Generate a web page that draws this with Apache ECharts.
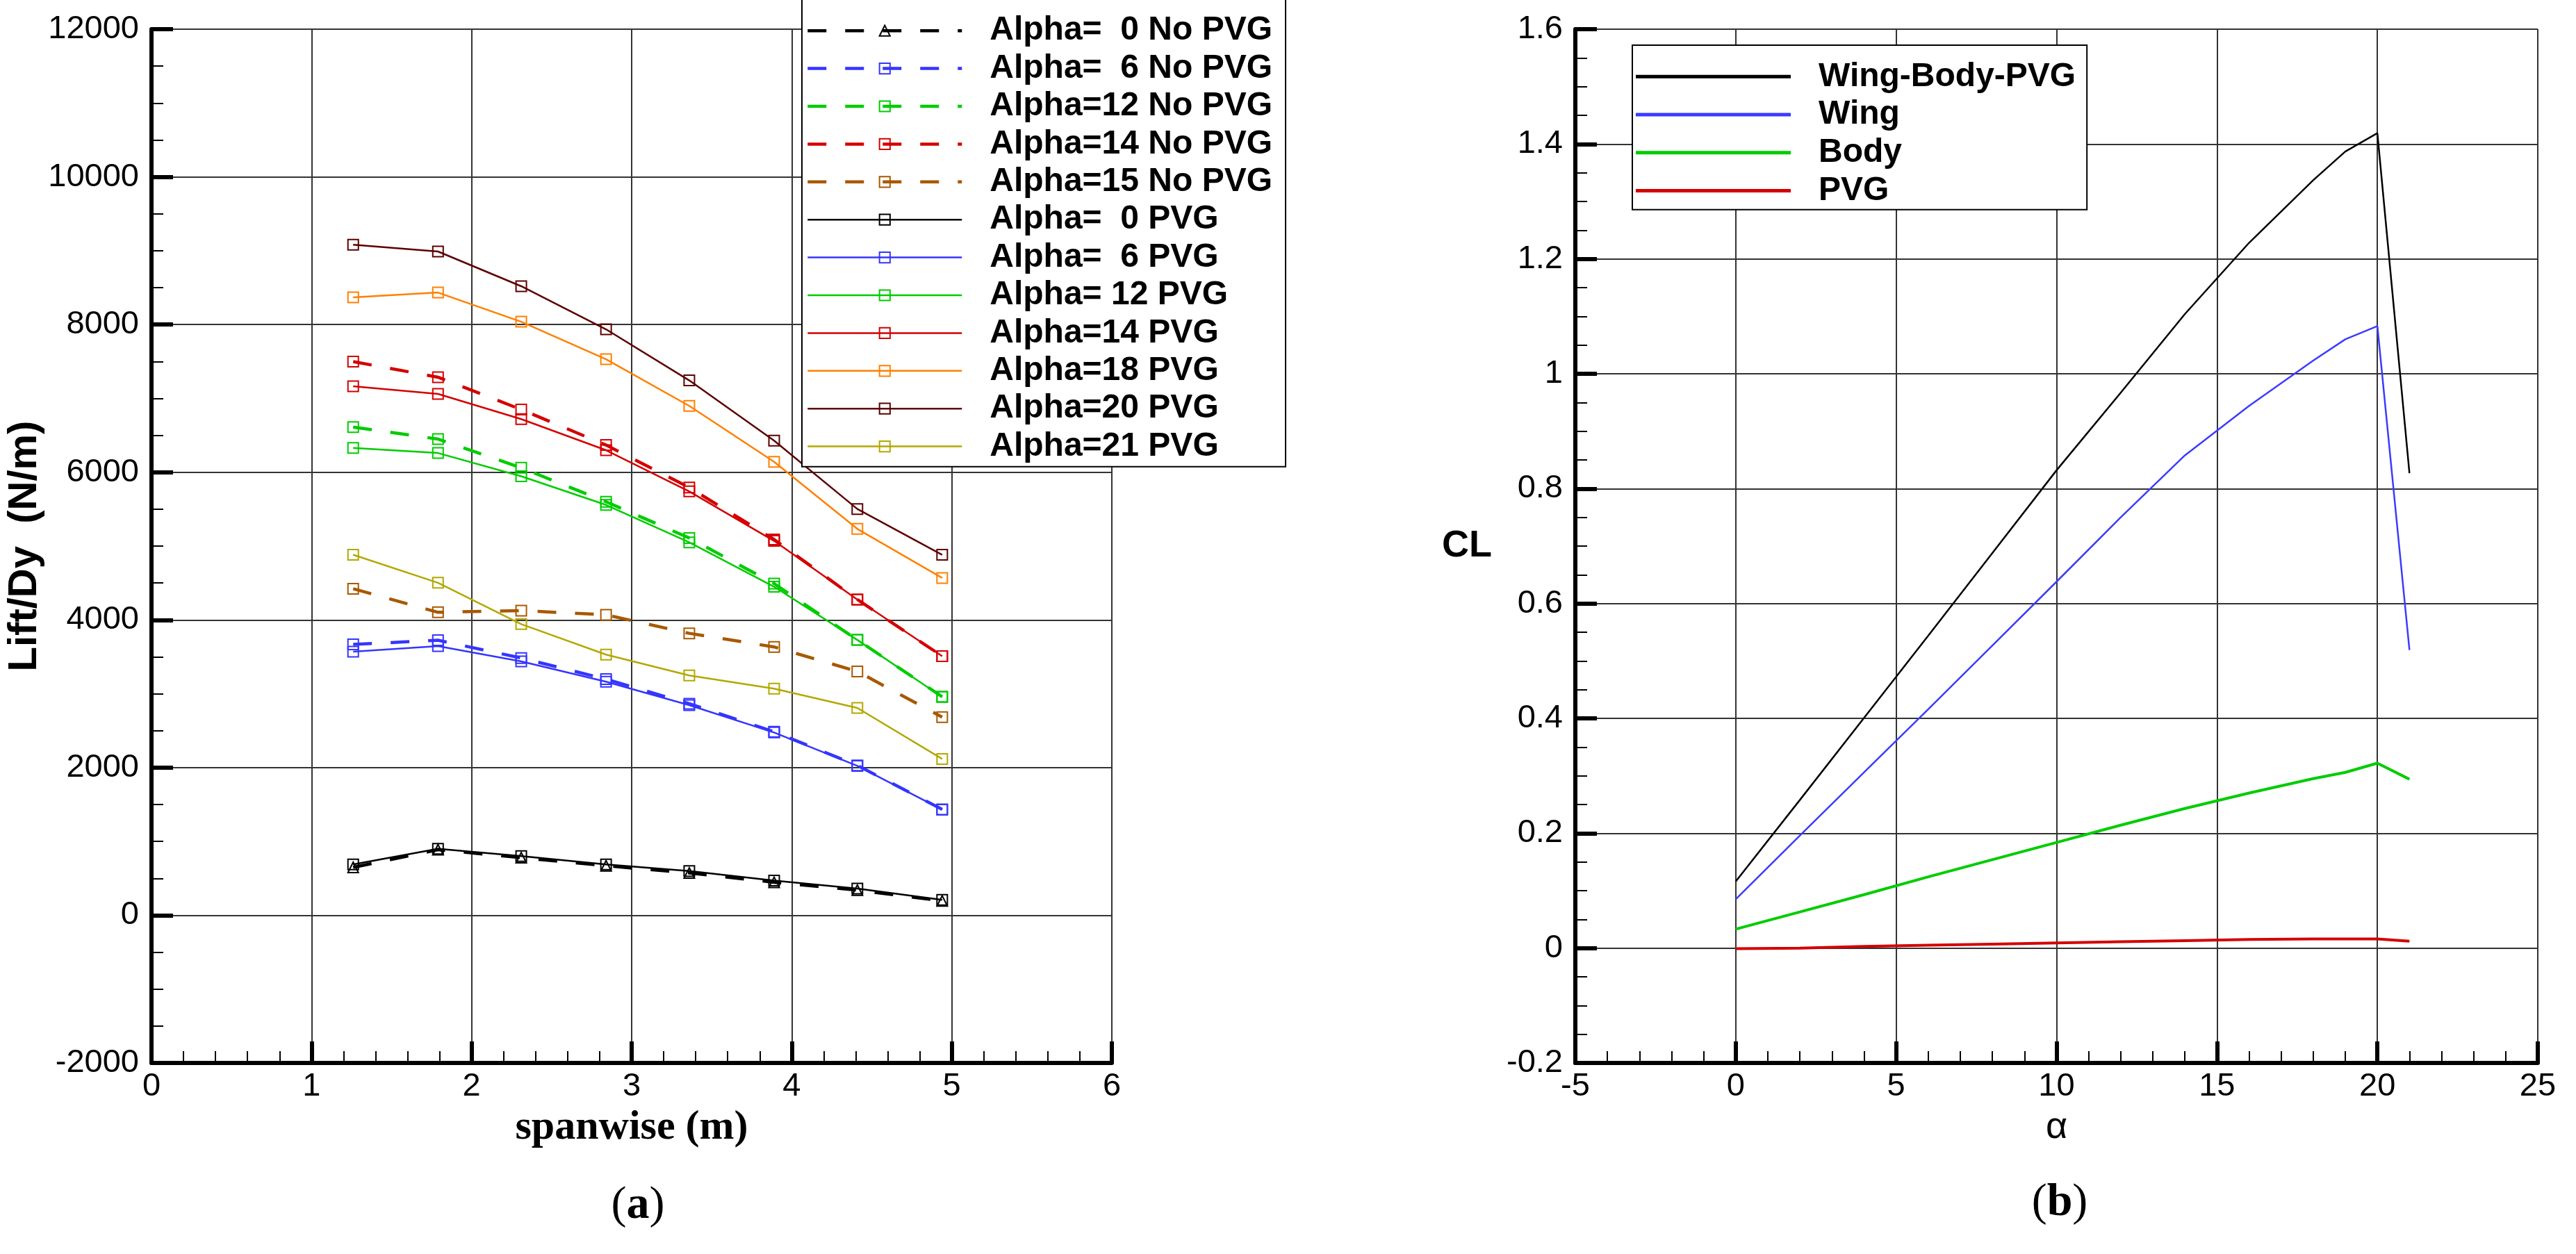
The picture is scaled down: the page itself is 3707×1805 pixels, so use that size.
<!DOCTYPE html>
<html><head><meta charset="utf-8">
<script src="https://cdn.jsdelivr.net/npm/echarts@6/dist/echarts.min.js"></script>
<style>html,body{margin:0;padding:0;background:#fff}#c{width:3707px;height:1805px}</style>
</head><body><div id="c"></div>
<script>
// ---------- panel (a): spanwise lift distribution ----------
const spanwise = [1.26, 1.79, 2.31, 2.84, 3.36, 3.89, 4.41, 4.94];
const a0NoPVG  = [648, 888, 780, 670, 573, 447, 340, 195];
const a6NoPVG  = [3668, 3725, 3484, 3198, 2865, 2485, 2030, 1435];
const a12NoPVG = [6611, 6449, 6060, 5600, 5109, 4492, 3729, 2960];
const a14NoPVG = [7498, 7287, 6849, 6368, 5793, 5089, 4276, 3509];
const a15NoPVG = [4422, 4103, 4126, 4069, 3818, 3634, 3302, 2683];
const a0PVG  = [688, 900, 802, 688, 600, 470, 362, 209];
const a6PVG  = [3570, 3645, 3438, 3163, 2845, 2475, 2023, 1430];
const a12PVG = [6330, 6260, 5946, 5557, 5050, 4449, 3729, 2956];
const a14PVG = [7163, 7060, 6719, 6298, 5740, 5070, 4276, 3509];
const a18PVG = [8368, 8433, 8038, 7530, 6898, 6141, 5232, 4568];
const a20PVG = [9081, 8989, 8519, 7935, 7243, 6427, 5502, 4882];
const a21PVG = [4882, 4503, 3943, 3530, 3248, 3069, 2808, 2117];
const spanTicks = [0, 1, 2, 3, 4, 5, 6];
const liftTicks = [-2000, 0, 2000, 4000, 6000, 8000, 10000, 12000];

// ---------- panel (b): CL vs alpha ----------
const alpha = [0, 2, 4, 6, 8, 10, 12, 14, 16, 18, 19, 20, 21];
const clWingBodyPVG = [0.116, 0.258, 0.401, 0.544, 0.688, 0.832, 0.967, 1.104, 1.228, 1.337, 1.387, 1.419, 0.827];
const clWing = [0.085, 0.196, 0.306, 0.416, 0.527, 0.638, 0.750, 0.858, 0.944, 1.023, 1.060, 1.083, 0.519];
const clBody = [0.033, 0.063, 0.093, 0.124, 0.154, 0.184, 0.214, 0.243, 0.270, 0.295, 0.306, 0.322, 0.294];
const clPVG  = [-0.001, 0.000, 0.003, 0.005, 0.007, 0.009, 0.011, 0.013, 0.015, 0.016, 0.016, 0.016, 0.012];
const alphaTicks = [-5, 0, 5, 10, 15, 20, 25];
const clTicks = [-0.2, 0, 0.2, 0.4, 0.6, 0.8, 1.0, 1.2, 1.4, 1.6];

const leftSeriesDefs = [
  {name: 'Alpha=  0 No PVG', data: a0NoPVG,  color: '#000000', dashed: true, sym: 'triangle'},
  {name: 'Alpha=  6 No PVG', data: a6NoPVG,  color: '#3535ff', dashed: true, sym: 'rect'},
  {name: 'Alpha=12 No PVG',  data: a12NoPVG, color: '#00cc00', dashed: true, sym: 'rect'},
  {name: 'Alpha=14 No PVG',  data: a14NoPVG, color: '#d40000', dashed: true, sym: 'rect'},
  {name: 'Alpha=15 No PVG',  data: a15NoPVG, color: '#a85800', dashed: true, sym: 'rect'},
  {name: 'Alpha=  0 PVG',    data: a0PVG,    color: '#000000', dashed: false, sym: 'rect'},
  {name: 'Alpha=  6 PVG',    data: a6PVG,    color: '#3535ff', dashed: false, sym: 'rect'},
  {name: 'Alpha= 12 PVG',    data: a12PVG,   color: '#00cc00', dashed: false, sym: 'rect'},
  {name: 'Alpha=14 PVG',     data: a14PVG,   color: '#d40000', dashed: false, sym: 'rect'},
  {name: 'Alpha=18 PVG',     data: a18PVG,   color: '#ff8000', dashed: false, sym: 'rect'},
  {name: 'Alpha=20 PVG',     data: a20PVG,   color: '#5c0000', dashed: false, sym: 'rect'},
  {name: 'Alpha=21 PVG',     data: a21PVG,   color: '#b3a800', dashed: false, sym: 'rect'}
];
const rightSeriesDefs = [
  {name: 'Wing-Body-PVG', data: clWingBodyPVG, color: '#000000', width: 2.5},
  {name: 'Wing', data: clWing, color: '#3b3bff', width: 2.5},
  {name: 'Body', data: clBody, color: '#00cc00', width: 4},
  {name: 'PVG', data: clPVG, color: '#d40000', width: 4}
];

const SANS = 'Liberation Sans, Arial, Helvetica, sans-serif';
const SERIF = 'Liberation Serif, Times New Roman, serif';

function mkAxisCommon() {
  return {
    axisLine: {show: true, onZero: false, lineStyle: {color: '#000', width: 6}},
    axisTick: {show: true, inside: true, length: 31, lineStyle: {color: '#000', width: 6}},
    minorTick: {show: true, length: 17, lineStyle: {color: '#000', width: 2}},
    splitLine: {show: true, lineStyle: {color: '#333', width: 2}},
    axisLabel: {color: '#000', fontFamily: SANS, fontSize: 47}
  };
}

const series = [];
leftSeriesDefs.forEach(d => {
  series.push({
    type: 'line', name: d.name, xAxisIndex: 0, yAxisIndex: 0,
    data: spanwise.map((x, i) => [x, d.data[i]]),
    symbol: d.sym, symbolSize: 15, showSymbol: true,
    itemStyle: {color: 'transparent', borderColor: d.color, borderWidth: 2},
    lineStyle: {color: d.color, width: d.dashed ? 4.5 : 2.5, type: d.dashed ? [27, 27] : 'solid'},
    emphasis: {disabled: true}, z: d.dashed ? 2 : 3
  });
});
rightSeriesDefs.forEach(d => {
  series.push({
    type: 'line', name: d.name, xAxisIndex: 1, yAxisIndex: 1,
    data: alpha.map((x, i) => [x, d.data[i]]),
    symbol: 'none', showSymbol: false,
    itemStyle: {color: d.color},
    lineStyle: {color: d.color, width: d.width},
    emphasis: {disabled: true}
  });
});

const xa0 = mkAxisCommon();
Object.assign(xa0, {
  type: 'value', gridIndex: 0, min: spanTicks[0], max: spanTicks[spanTicks.length - 1], interval: 1,
  minorTick: Object.assign(xa0.minorTick, {splitNumber: 5}),
  name: 'spanwise (m)', nameLocation: 'middle', nameGap: 63,
  nameTextStyle: {fontFamily: SERIF, fontWeight: 'bold', fontSize: 60, color: '#000'}
});
xa0.axisLabel.margin = 11;
const ya0 = mkAxisCommon();
Object.assign(ya0, {
  type: 'value', gridIndex: 0, min: liftTicks[0], max: liftTicks[liftTicks.length - 1], interval: 2000,
  minorTick: Object.assign(ya0.minorTick, {splitNumber: 4}),
  name: 'Lift/Dy  (N/m)', nameLocation: 'middle', nameGap: 108, nameRotate: 90,
  nameTextStyle: {fontFamily: SANS, fontWeight: 'bold', fontSize: 58, color: '#000'}
});
ya0.axisLabel.margin = 18;
ya0.axisLabel.formatter = v => String(v);
const xa1 = mkAxisCommon();
Object.assign(xa1, {
  type: 'value', gridIndex: 1, min: alphaTicks[0], max: alphaTicks[alphaTicks.length - 1], interval: 5,
  minorTick: Object.assign(xa1.minorTick, {splitNumber: 5}),
  name: 'α', nameLocation: 'middle', nameGap: 66,
  nameTextStyle: {fontFamily: SANS, fontSize: 54, color: '#000'}
});
xa1.axisLabel.margin = 11;
const ya1 = mkAxisCommon();
Object.assign(ya1, {
  type: 'value', gridIndex: 1, min: clTicks[0], max: clTicks[clTicks.length - 1], interval: 0.2,
  minorTick: Object.assign(ya1.minorTick, {splitNumber: 4}),
  name: 'CL', nameLocation: 'middle', nameGap: 120, nameRotate: 0,
  nameTextStyle: {fontFamily: SANS, fontWeight: 'bold', fontSize: 54, color: '#000'}
});
ya1.axisLabel.margin = 18;

const option = {
  animation: false,
  backgroundColor: '#fff',
  grid: [
    {left: 218, right: 3707 - 1600, top: 42, bottom: 1805 - 1530, containLabel: false},
    {left: 2267, right: 3707 - 3652, top: 42, bottom: 1805 - 1530, containLabel: false}
  ],
  xAxis: [xa0, xa1],
  yAxis: [ya0, ya1],
  legend: [
    {
      data: leftSeriesDefs.map(d => ({name: d.name, lineStyle: {width: d.dashed ? 4.5 : 2.5}})),
      orient: 'vertical', left: 1154, top: -2,
      padding: [19, 19, 2, 6], itemGap: 0,
      itemWidth: 222, itemHeight: 19,
      backgroundColor: '#fff', borderColor: '#000', borderWidth: 2,
      selectedMode: false,
      textStyle: {fontFamily: SANS, fontWeight: 'bold', fontSize: 48, color: '#000', lineHeight: 54.4, padding: [0, 0, 0, 35]}
    },
    {
      data: rightSeriesDefs.map(d => ({name: d.name, icon: 'rect'})),
      orient: 'vertical', left: 2349, top: 65,
      padding: [18, 16, 0, 5], itemGap: 0,
      itemWidth: 223, itemHeight: 5,
      backgroundColor: '#fff', borderColor: '#000', borderWidth: 2,
      selectedMode: false,
      textStyle: {fontFamily: SANS, fontWeight: 'bold', fontSize: 48, color: '#000', lineHeight: 54.7, padding: [0, 0, 0, 35]}
    }
  ],
  graphic: [
    {type: 'text', x: 918, y: 1736, style: {
      text: '{p|(}{b|a}{p|)}', align: 'center', verticalAlign: 'middle',
      rich: {p: {fontFamily: SERIF, fontSize: 66, fill: '#000'}, b: {fontFamily: SERIF, fontSize: 66, fontWeight: 'bold', fill: '#000'}}
    }},
    {type: 'text', x: 2964, y: 1732, style: {
      text: '{p|(}{b|b}{p|)}', align: 'center', verticalAlign: 'middle',
      rich: {p: {fontFamily: SERIF, fontSize: 66, fill: '#000'}, b: {fontFamily: SERIF, fontSize: 66, fontWeight: 'bold', fill: '#000'}}
    }}
  ],
  series: series
};

const chart = echarts.init(document.getElementById('c'), null, {renderer: 'canvas'});
chart.setOption(option);
</script>
</body></html>
